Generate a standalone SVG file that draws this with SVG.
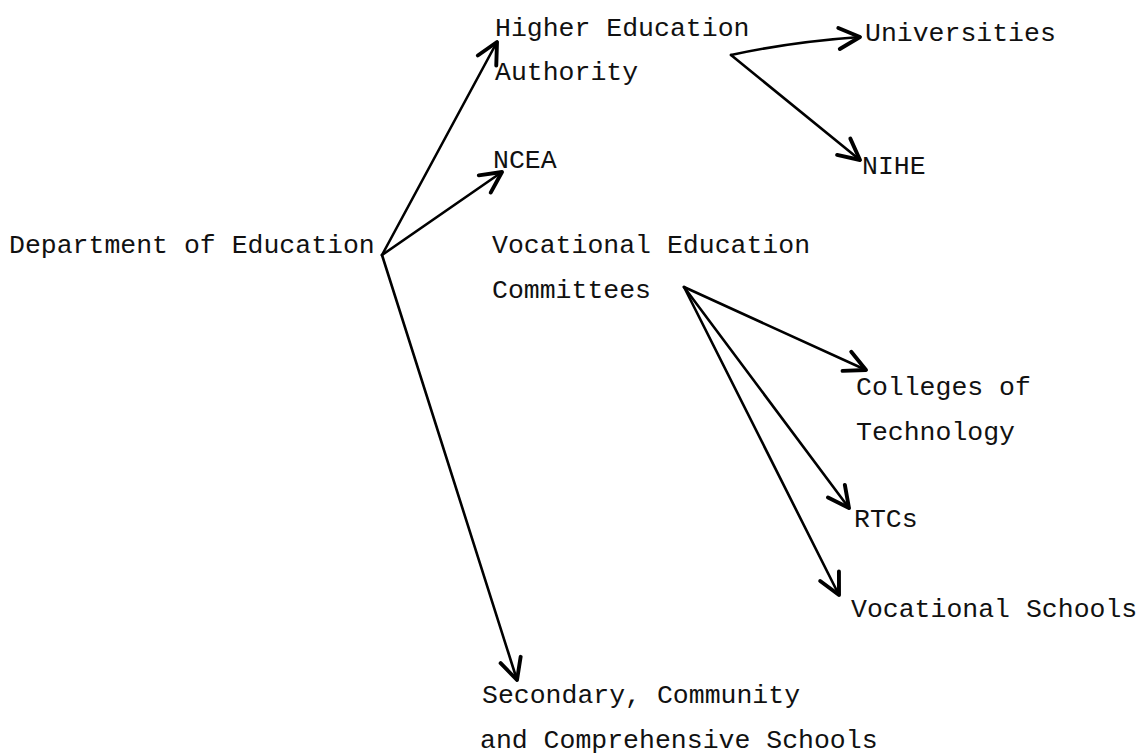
<svg xmlns="http://www.w3.org/2000/svg" width="1146" height="755" viewBox="0 0 1146 755">
<style>
text{font-family:"Liberation Mono","DejaVu Sans Mono",monospace;font-size:26.5px;fill:#111}
.c{fill:none;stroke:#000;stroke-width:2.6;stroke-linecap:round;stroke-linejoin:round}
</style>
<defs>
<marker id="ah" markerUnits="userSpaceOnUse" markerWidth="30" markerHeight="30" refX="0" refY="0" viewBox="-16 -10 20 20" orient="auto" overflow="visible">
<path d="M-14,-7 L0,0 L-14,7" fill="none" stroke="#000" stroke-width="2.6" stroke-linecap="round" stroke-linejoin="round"/>
</marker>
</defs>
<rect width="1146" height="755" fill="#fff"/>
<g id="connectors">
<path class="c" d="M382,255 L497,42" marker-end="url(#ah)"/>
<path class="c" d="M382,255 L502,172" marker-end="url(#ah)"/>
<path class="c" d="M382,255 L517,680" marker-end="url(#ah)"/>
<path class="c" d="M731,55 Q790,42 860,37" marker-end="url(#ah)"/>
<path class="c" d="M731,55 L860,160" marker-end="url(#ah)"/>
<path class="c" d="M684,287 L866,370" marker-end="url(#ah)"/>
<path class="c" d="M684,287 L849,508" marker-end="url(#ah)"/>
<path class="c" d="M684,287 L839,595" marker-end="url(#ah)"/>
</g>
<g id="dept"><text x="9" y="253">Department of Education</text></g>
<g id="hea"><text x="495" y="36">Higher Education</text><text x="495" y="80">Authority</text></g>
<g id="ncea"><text x="493" y="168">NCEA</text></g>
<g id="vec"><text x="492" y="253">Vocational Education</text><text x="492" y="298">Committees</text></g>
<g id="univ"><text x="865" y="41">Universities</text></g>
<g id="nihe"><text x="862" y="174">NIHE</text></g>
<g id="colleges"><text x="856" y="395">Colleges of</text><text x="856" y="440">Technology</text></g>
<g id="rtcs"><text x="854" y="527">RTCs</text></g>
<g id="vocschools"><text x="851" y="617">Vocational Schools</text></g>
<g id="secondary"><text x="482" y="703">Secondary, Community</text><text x="480" y="748">and Comprehensive Schools</text></g>
</svg>
